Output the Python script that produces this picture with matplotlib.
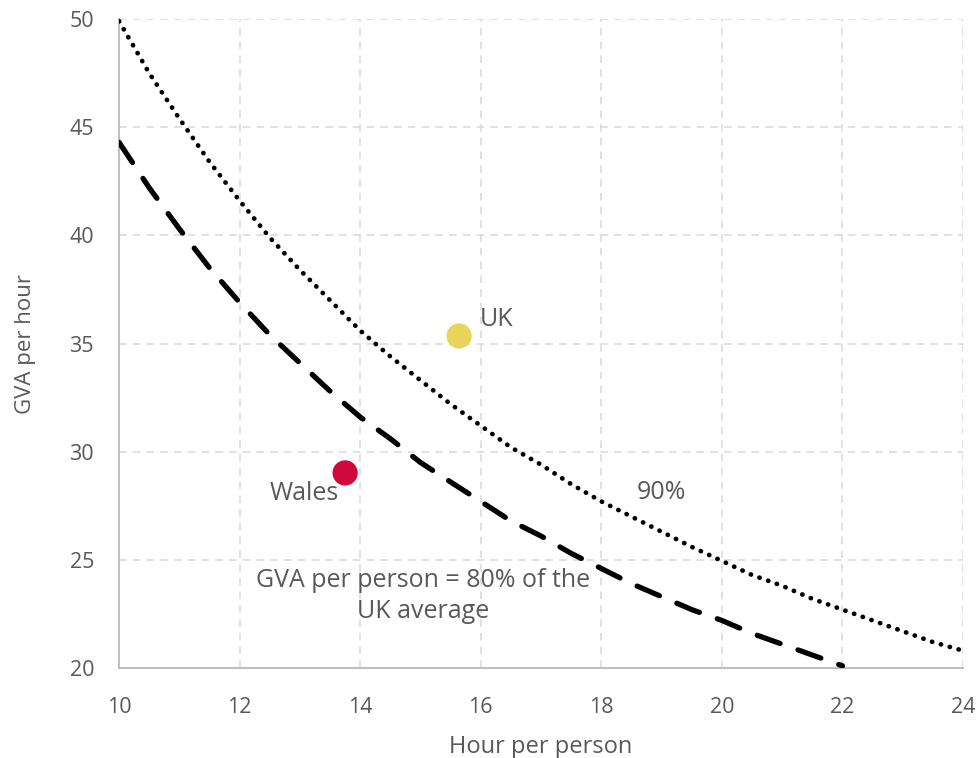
import matplotlib.pyplot as plt

plt.rcParams['font.family'] = ['Open Sans', 'DejaVu Sans']

# Iso-GVA-per-person curves, values
hours = [10, 10.5, 11, 11.5, 12, 12.5, 13, 13.5, 14, 14.5, 15, 15.5, 16, 16.5,
         17, 17.5, 18, 18.5, 19, 19.5, 20, 20.5, 21, 21.5, 22, 22.5, 23, 23.5, 24]
gva_90 = [49.9, 47.5, 45.4, 43.4, 41.6, 39.9, 38.4, 37.0, 35.6, 34.4, 33.3, 32.2,
          31.2, 30.2, 29.4, 28.5, 27.7, 27.0, 26.3, 25.6, 24.95, 24.3, 23.8, 23.2,
          22.7, 22.2, 21.7, 21.2, 20.8]
hours_80 = hours[:25]
gva_80 = [44.3, 42.2, 40.3, 38.5, 36.9, 35.4, 34.1, 32.8, 31.6, 30.6, 29.5, 28.6,
          27.7, 26.8, 26.1, 25.3, 24.6, 23.9, 23.3, 22.7, 22.2, 21.6, 21.1, 20.6, 20.1]

regions = ['UK', 'Wales']
region_hours = [15.64, 13.75]
region_gva = [35.35, 29.02]
region_colors = ['#E8D55A', '#D0093C']

text_col = '#595959'

fig = plt.figure(figsize=(9.79, 7.58), dpi=100)
ax = fig.add_axes([0.1216, 0.1187, 0.8621, 0.8562])

ax.plot(hours, gva_90, color='black', lw=3.4, linestyle=(0, (0.05, 1.9)),
        dash_capstyle='round', zorder=3)
ax.plot(hours_80, gva_80, color='black', lw=3.8, linestyle=(0, (4.6, 3.6)),
        dash_capstyle='round', zorder=3)

ax.scatter(region_hours, region_gva, s=330, c=region_colors, zorder=4, linewidths=0)

ax.text(15.98, 36.1, 'UK', fontsize=18, color=text_col, ha='left', va='center')
ax.text(13.65, 28.05, 'Wales', fontsize=18, color=text_col, ha='right', va='center')
ax.text(18.58, 28.1, '90%', fontsize=18, color=text_col, ha='left', va='center')
ax.text(15.04, 23.33, 'GVA per person = 80% of the\nUK average', fontsize=18,
        color=text_col, ha='center', va='center', linespacing=1.32)

ax.set_xlim(10, 24)
ax.set_ylim(20, 50)
ax.set_xticks(range(10, 25, 2))
ax.set_yticks(range(20, 51, 5))

ax.grid(True, color='#D9D9D9', linestyle=(0, (5, 4)), lw=1.1)
ax.set_axisbelow(True)
for s in ['top', 'right']:
    ax.spines[s].set_visible(False)
for s in ['left', 'bottom']:
    ax.spines[s].set_color('#BFBFBF')
    ax.spines[s].set_linewidth(1.5)
ax.tick_params(length=0, labelsize=15.5, labelcolor=text_col)
ax.tick_params(axis='x', pad=21)
ax.tick_params(axis='y', pad=18)

ax.set_xlabel('Hour per person', fontsize=17, color=text_col, labelpad=12)
ax.set_ylabel('GVA per hour', fontsize=16, color=text_col, labelpad=24)

plt.savefig('out.png', dpi=100)
